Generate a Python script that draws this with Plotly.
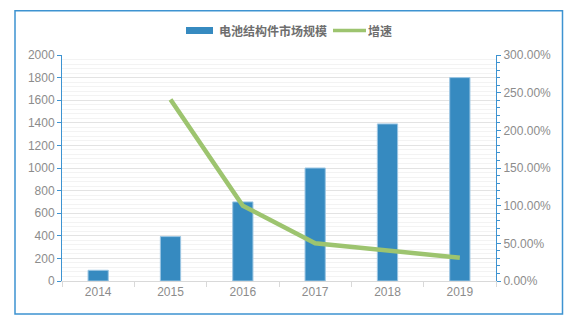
import plotly.graph_objects as go

years = ["2014", "2015", "2016", "2017", "2018", "2019"]
market_size = [95, 393, 700, 1000, 1390, 1800]
growth_years = ["2015", "2016", "2017", "2018", "2019"]
growth = [2.41, 1.00, 0.50, 0.40, 0.31]
bar_name = "电池结构件市场规模"
line_name = "增速"

bar_color = "#368ac0"
line_color = "#9dc46f"
axis_blue = "#3d93d1"
tick_gray = "#8c8c8c"
legend_gray = "#6e6e6e"

fig = go.Figure()
fig.add_trace(go.Bar(x=years, y=market_size, name=bar_name, showlegend=False,
                     marker=dict(color=bar_color, line=dict(color="#9cc6e3", width=1)),
                     width=0.28))
fig.add_trace(go.Scatter(x=growth_years, y=growth, name=line_name, yaxis="y2", showlegend=False,
                         mode="lines", line=dict(color=line_color, width=4.5)))

W, H = 580, 326
L, R, T, B = 62, 84, 55, 45
pw, ph = W - L - R, H - T - B

def px(x):
    return (x - L) / pw

def py(y):
    return (H - B - y) / ph

legend_y = 30.5
shapes = [
    dict(type="rect", xref="paper", yref="paper",
         x0=px(15), x1=px(562.5), y0=py(314), y1=py(10.7),
         line=dict(color=axis_blue, width=1.5), fillcolor="rgba(0,0,0,0)", layer="below"),
    dict(type="rect", xref="paper", yref="paper",
         x0=px(186), x1=px(213), y0=py(34), y1=py(27),
         line=dict(width=0), fillcolor=bar_color),
    dict(type="line", xref="paper", yref="paper",
         x0=px(333), x1=px(366), y0=py(legend_y), y1=py(legend_y),
         line=dict(color=line_color, width=3.5)),
]
annotations = [
    dict(text="<b>%s</b>" % bar_name, xref="paper", yref="paper", x=px(217), y=py(legend_y),
         xanchor="left", yanchor="middle", showarrow=False,
         font=dict(size=12, color=legend_gray, family="Noto Sans CJK SC")),
    dict(text="<b>%s</b>" % line_name, xref="paper", yref="paper", x=px(366), y=py(legend_y),
         xanchor="left", yanchor="middle", showarrow=False,
         font=dict(size=12, color=legend_gray, family="Noto Sans CJK SC")),
]

fig.update_layout(
    width=W, height=H,
    margin=dict(l=L, r=R, t=T, b=B),
    paper_bgcolor="white", plot_bgcolor="white",
    font=dict(family="Liberation Sans, Arial, sans-serif", size=12, color=tick_gray),
    showlegend=False,
    bargap=0.72,
    xaxis=dict(type="category", showline=True, linecolor="#d9d9d9", linewidth=1,
               ticks="outside", tickson="boundaries", ticklen=5, tickcolor="#d9d9d9",
               tickfont=dict(size=12, color=tick_gray), showgrid=False, zeroline=False),
    yaxis=dict(range=[0, 2000], dtick=200, showline=True, linecolor=axis_blue, linewidth=1,
               ticks="outside", ticklen=4, tickcolor=axis_blue,
               tickfont=dict(size=12, color=tick_gray),
               showgrid=True, gridcolor="#e3e3e3", gridwidth=1, zeroline=False,
               minor=dict(dtick=40, showgrid=True, gridcolor="#f3f3f3", gridwidth=1)),
    yaxis2=dict(range=[0, 3], dtick=0.5, tickformat=".2%", overlaying="y", side="right",
                showline=True, linecolor=axis_blue, linewidth=1,
                ticks="outside", ticklen=4, tickcolor=axis_blue,
                tickfont=dict(size=12, color=tick_gray), showgrid=False, zeroline=False,
                minor=dict(dtick=0.1, ticks="outside", ticklen=3, tickcolor=axis_blue,
                           showgrid=False)),
    shapes=shapes,
    annotations=annotations,
)

fig.write_html("out.html")
